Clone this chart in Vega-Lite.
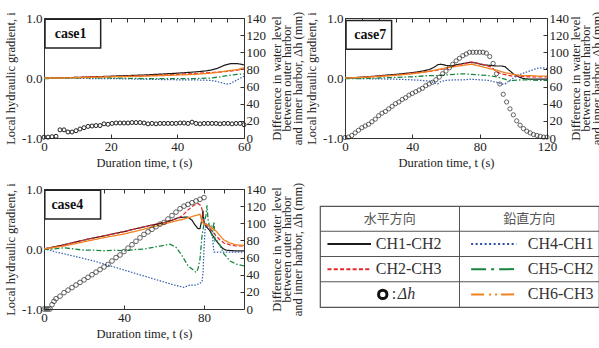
{
  "$schema": "https://vega.github.io/schema/vega-lite/v6.json",
  "padding": {"left": 3, "top": 10, "right": 0, "bottom": 0},
  "background": "white",
  "config": {
    "font": "Liberation Serif",
    "view": {"stroke": "#333", "strokeWidth": 1},
    "axis": {"labelFont": "Liberation Serif", "labelFontSize": 13, "labelColor": "#222", "titleFont": "Liberation Serif", "titleFontSize": 12.5, "titleFontWeight": "normal", "titleColor": "#222", "domain": false, "grid": false, "tickColor": "#333", "tickSize": -4, "tickWidth": 1, "labelPadding": 6, "labelFlush": false, "labelOverlap": false}
  },
  "datasets": {
    "lines": [
      {"c":"case1","s":"CH1-CH2","t":0,"v":0},{"c":"case1","s":"CH1-CH2","t":5,"v":0.005},{"c":"case1","s":"CH1-CH2","t":10,"v":0.01},{"c":"case1","s":"CH1-CH2","t":15,"v":0.02},{"c":"case1","s":"CH1-CH2","t":20,"v":0.03},{"c":"case1","s":"CH1-CH2","t":25,"v":0.04},{"c":"case1","s":"CH1-CH2","t":30,"v":0.05},{"c":"case1","s":"CH1-CH2","t":35,"v":0.065},{"c":"case1","s":"CH1-CH2","t":40,"v":0.08},{"c":"case1","s":"CH1-CH2","t":45,"v":0.1},{"c":"case1","s":"CH1-CH2","t":48,"v":0.115},{"c":"case1","s":"CH1-CH2","t":50,"v":0.13},{"c":"case1","s":"CH1-CH2","t":52,"v":0.16},{"c":"case1","s":"CH1-CH2","t":54,"v":0.21},{"c":"case1","s":"CH1-CH2","t":56,"v":0.24},{"c":"case1","s":"CH1-CH2","t":58,"v":0.24},{"c":"case1","s":"CH1-CH2","t":60,"v":0.22},
      {"c":"case1","s":"CH2-CH3","t":0,"v":0},{"c":"case1","s":"CH2-CH3","t":5,"v":0.005},{"c":"case1","s":"CH2-CH3","t":10,"v":0.01},{"c":"case1","s":"CH2-CH3","t":15,"v":0.02},{"c":"case1","s":"CH2-CH3","t":20,"v":0.025},{"c":"case1","s":"CH2-CH3","t":25,"v":0.03},{"c":"case1","s":"CH2-CH3","t":30,"v":0.04},{"c":"case1","s":"CH2-CH3","t":35,"v":0.05},{"c":"case1","s":"CH2-CH3","t":40,"v":0.06},{"c":"case1","s":"CH2-CH3","t":45,"v":0.075},{"c":"case1","s":"CH2-CH3","t":50,"v":0.09},{"c":"case1","s":"CH2-CH3","t":55,"v":0.11},{"c":"case1","s":"CH2-CH3","t":58,"v":0.13},{"c":"case1","s":"CH2-CH3","t":60,"v":0.15},
      {"c":"case1","s":"CH4-CH1","t":0,"v":0},{"c":"case1","s":"CH4-CH1","t":5,"v":0},{"c":"case1","s":"CH4-CH1","t":10,"v":-0.005},{"c":"case1","s":"CH4-CH1","t":15,"v":-0.01},{"c":"case1","s":"CH4-CH1","t":20,"v":-0.01},{"c":"case1","s":"CH4-CH1","t":25,"v":-0.015},{"c":"case1","s":"CH4-CH1","t":30,"v":-0.02},{"c":"case1","s":"CH4-CH1","t":35,"v":-0.025},{"c":"case1","s":"CH4-CH1","t":40,"v":-0.03},{"c":"case1","s":"CH4-CH1","t":45,"v":-0.03},{"c":"case1","s":"CH4-CH1","t":50,"v":-0.04},{"c":"case1","s":"CH4-CH1","t":52,"v":-0.06},{"c":"case1","s":"CH4-CH1","t":54,"v":-0.09},{"c":"case1","s":"CH4-CH1","t":55,"v":-0.1},{"c":"case1","s":"CH4-CH1","t":56,"v":-0.09},{"c":"case1","s":"CH4-CH1","t":57,"v":-0.06},{"c":"case1","s":"CH4-CH1","t":58,"v":-0.03},{"c":"case1","s":"CH4-CH1","t":60,"v":0.03},
      {"c":"case1","s":"CH5-CH2","t":0,"v":-0.01},{"c":"case1","s":"CH5-CH2","t":5,"v":-0.005},{"c":"case1","s":"CH5-CH2","t":10,"v":0},{"c":"case1","s":"CH5-CH2","t":15,"v":0.005},{"c":"case1","s":"CH5-CH2","t":20,"v":0},{"c":"case1","s":"CH5-CH2","t":25,"v":-0.005},{"c":"case1","s":"CH5-CH2","t":30,"v":-0.01},{"c":"case1","s":"CH5-CH2","t":35,"v":-0.01},{"c":"case1","s":"CH5-CH2","t":40,"v":-0.01},{"c":"case1","s":"CH5-CH2","t":45,"v":-0.01},{"c":"case1","s":"CH5-CH2","t":50,"v":0},{"c":"case1","s":"CH5-CH2","t":53,"v":0.02},{"c":"case1","s":"CH5-CH2","t":55,"v":0.04},{"c":"case1","s":"CH5-CH2","t":58,"v":0.06},{"c":"case1","s":"CH5-CH2","t":60,"v":0.07},
      {"c":"case1","s":"CH6-CH3","t":0,"v":0},{"c":"case1","s":"CH6-CH3","t":5,"v":0},{"c":"case1","s":"CH6-CH3","t":10,"v":0.005},{"c":"case1","s":"CH6-CH3","t":15,"v":0.01},{"c":"case1","s":"CH6-CH3","t":20,"v":0.02},{"c":"case1","s":"CH6-CH3","t":25,"v":0.025},{"c":"case1","s":"CH6-CH3","t":30,"v":0.03},{"c":"case1","s":"CH6-CH3","t":35,"v":0.04},{"c":"case1","s":"CH6-CH3","t":40,"v":0.05},{"c":"case1","s":"CH6-CH3","t":45,"v":0.06},{"c":"case1","s":"CH6-CH3","t":50,"v":0.08},{"c":"case1","s":"CH6-CH3","t":53,"v":0.1},{"c":"case1","s":"CH6-CH3","t":55,"v":0.12},{"c":"case1","s":"CH6-CH3","t":58,"v":0.14},{"c":"case1","s":"CH6-CH3","t":60,"v":0.17},

      {"c":"case7","s":"CH1-CH2","t":0,"v":0},{"c":"case7","s":"CH1-CH2","t":5,"v":0.005},{"c":"case7","s":"CH1-CH2","t":10,"v":0.015},{"c":"case7","s":"CH1-CH2","t":15,"v":0.025},{"c":"case7","s":"CH1-CH2","t":20,"v":0.035},{"c":"case7","s":"CH1-CH2","t":25,"v":0.05},{"c":"case7","s":"CH1-CH2","t":30,"v":0.06},{"c":"case7","s":"CH1-CH2","t":35,"v":0.075},{"c":"case7","s":"CH1-CH2","t":40,"v":0.09},{"c":"case7","s":"CH1-CH2","t":45,"v":0.11},{"c":"case7","s":"CH1-CH2","t":50,"v":0.14},{"c":"case7","s":"CH1-CH2","t":53,"v":0.18},{"c":"case7","s":"CH1-CH2","t":55,"v":0.22},{"c":"case7","s":"CH1-CH2","t":57,"v":0.23},{"c":"case7","s":"CH1-CH2","t":60,"v":0.21},{"c":"case7","s":"CH1-CH2","t":63,"v":0.2},{"c":"case7","s":"CH1-CH2","t":66,"v":0.22},{"c":"case7","s":"CH1-CH2","t":70,"v":0.24},{"c":"case7","s":"CH1-CH2","t":74,"v":0.26},{"c":"case7","s":"CH1-CH2","t":78,"v":0.25},{"c":"case7","s":"CH1-CH2","t":82,"v":0.22},{"c":"case7","s":"CH1-CH2","t":86,"v":0.21},{"c":"case7","s":"CH1-CH2","t":90,"v":0.2},{"c":"case7","s":"CH1-CH2","t":93,"v":0.2},{"c":"case7","s":"CH1-CH2","t":95,"v":0.19},{"c":"case7","s":"CH1-CH2","t":97,"v":0.14},{"c":"case7","s":"CH1-CH2","t":100,"v":0.07},{"c":"case7","s":"CH1-CH2","t":103,"v":0.02},{"c":"case7","s":"CH1-CH2","t":106,"v":-0.01},{"c":"case7","s":"CH1-CH2","t":110,"v":-0.02},{"c":"case7","s":"CH1-CH2","t":115,"v":-0.02},{"c":"case7","s":"CH1-CH2","t":120,"v":-0.02},
      {"c":"case7","s":"CH2-CH3","t":0,"v":0},{"c":"case7","s":"CH2-CH3","t":10,"v":0.01},{"c":"case7","s":"CH2-CH3","t":20,"v":0.03},{"c":"case7","s":"CH2-CH3","t":30,"v":0.05},{"c":"case7","s":"CH2-CH3","t":40,"v":0.08},{"c":"case7","s":"CH2-CH3","t":50,"v":0.11},{"c":"case7","s":"CH2-CH3","t":55,"v":0.13},{"c":"case7","s":"CH2-CH3","t":60,"v":0.16},{"c":"case7","s":"CH2-CH3","t":65,"v":0.2},{"c":"case7","s":"CH2-CH3","t":70,"v":0.23},{"c":"case7","s":"CH2-CH3","t":73,"v":0.25},{"c":"case7","s":"CH2-CH3","t":75,"v":0.27},{"c":"case7","s":"CH2-CH3","t":78,"v":0.25},{"c":"case7","s":"CH2-CH3","t":80,"v":0.24},{"c":"case7","s":"CH2-CH3","t":83,"v":0.22},{"c":"case7","s":"CH2-CH3","t":86,"v":0.19},{"c":"case7","s":"CH2-CH3","t":88,"v":0.16},{"c":"case7","s":"CH2-CH3","t":90,"v":0.1},{"c":"case7","s":"CH2-CH3","t":93,"v":0.07},{"c":"case7","s":"CH2-CH3","t":96,"v":0.05},{"c":"case7","s":"CH2-CH3","t":100,"v":0.03},{"c":"case7","s":"CH2-CH3","t":110,"v":0.02},{"c":"case7","s":"CH2-CH3","t":120,"v":0.02},
      {"c":"case7","s":"CH4-CH1","t":0,"v":0},{"c":"case7","s":"CH4-CH1","t":10,"v":-0.01},{"c":"case7","s":"CH4-CH1","t":20,"v":-0.015},{"c":"case7","s":"CH4-CH1","t":30,"v":-0.02},{"c":"case7","s":"CH4-CH1","t":40,"v":-0.03},{"c":"case7","s":"CH4-CH1","t":45,"v":-0.04},{"c":"case7","s":"CH4-CH1","t":50,"v":-0.05},{"c":"case7","s":"CH4-CH1","t":53,"v":-0.08},{"c":"case7","s":"CH4-CH1","t":55,"v":-0.1},{"c":"case7","s":"CH4-CH1","t":57,"v":-0.06},{"c":"case7","s":"CH4-CH1","t":60,"v":-0.04},{"c":"case7","s":"CH4-CH1","t":65,"v":-0.03},{"c":"case7","s":"CH4-CH1","t":70,"v":-0.03},{"c":"case7","s":"CH4-CH1","t":75,"v":-0.02},{"c":"case7","s":"CH4-CH1","t":80,"v":-0.03},{"c":"case7","s":"CH4-CH1","t":85,"v":-0.04},{"c":"case7","s":"CH4-CH1","t":90,"v":-0.07},{"c":"case7","s":"CH4-CH1","t":93,"v":-0.1},{"c":"case7","s":"CH4-CH1","t":95,"v":-0.1},{"c":"case7","s":"CH4-CH1","t":97,"v":-0.06},{"c":"case7","s":"CH4-CH1","t":100,"v":0},{"c":"case7","s":"CH4-CH1","t":103,"v":0.05},{"c":"case7","s":"CH4-CH1","t":106,"v":0.08},{"c":"case7","s":"CH4-CH1","t":110,"v":0.12},{"c":"case7","s":"CH4-CH1","t":114,"v":0.16},{"c":"case7","s":"CH4-CH1","t":117,"v":0.17},{"c":"case7","s":"CH4-CH1","t":120,"v":0.16},
      {"c":"case7","s":"CH5-CH2","t":0,"v":-0.01},{"c":"case7","s":"CH5-CH2","t":10,"v":-0.01},{"c":"case7","s":"CH5-CH2","t":20,"v":0},{"c":"case7","s":"CH5-CH2","t":30,"v":0.01},{"c":"case7","s":"CH5-CH2","t":40,"v":0.02},{"c":"case7","s":"CH5-CH2","t":50,"v":0.04},{"c":"case7","s":"CH5-CH2","t":55,"v":0.04},{"c":"case7","s":"CH5-CH2","t":60,"v":0.05},{"c":"case7","s":"CH5-CH2","t":65,"v":0.06},{"c":"case7","s":"CH5-CH2","t":70,"v":0.07},{"c":"case7","s":"CH5-CH2","t":75,"v":0.06},{"c":"case7","s":"CH5-CH2","t":80,"v":0.05},{"c":"case7","s":"CH5-CH2","t":85,"v":0.04},{"c":"case7","s":"CH5-CH2","t":90,"v":0.02},{"c":"case7","s":"CH5-CH2","t":95,"v":-0.02},{"c":"case7","s":"CH5-CH2","t":98,"v":-0.05},{"c":"case7","s":"CH5-CH2","t":100,"v":-0.04},{"c":"case7","s":"CH5-CH2","t":105,"v":-0.03},{"c":"case7","s":"CH5-CH2","t":110,"v":-0.03},{"c":"case7","s":"CH5-CH2","t":115,"v":-0.04},{"c":"case7","s":"CH5-CH2","t":120,"v":-0.04},
      {"c":"case7","s":"CH6-CH3","t":0,"v":0},{"c":"case7","s":"CH6-CH3","t":10,"v":0.01},{"c":"case7","s":"CH6-CH3","t":20,"v":0.025},{"c":"case7","s":"CH6-CH3","t":30,"v":0.045},{"c":"case7","s":"CH6-CH3","t":40,"v":0.07},{"c":"case7","s":"CH6-CH3","t":50,"v":0.11},{"c":"case7","s":"CH6-CH3","t":55,"v":0.14},{"c":"case7","s":"CH6-CH3","t":60,"v":0.17},{"c":"case7","s":"CH6-CH3","t":65,"v":0.19},{"c":"case7","s":"CH6-CH3","t":70,"v":0.21},{"c":"case7","s":"CH6-CH3","t":75,"v":0.23},{"c":"case7","s":"CH6-CH3","t":80,"v":0.2},{"c":"case7","s":"CH6-CH3","t":85,"v":0.16},{"c":"case7","s":"CH6-CH3","t":90,"v":0.13},{"c":"case7","s":"CH6-CH3","t":95,"v":0.09},{"c":"case7","s":"CH6-CH3","t":100,"v":0.06},{"c":"case7","s":"CH6-CH3","t":105,"v":0.04},{"c":"case7","s":"CH6-CH3","t":110,"v":0.04},{"c":"case7","s":"CH6-CH3","t":115,"v":0.03},{"c":"case7","s":"CH6-CH3","t":120,"v":0.03},

      {"c":"case4","s":"CH1-CH2","t":0,"v":0},{"c":"case4","s":"CH1-CH2","t":10,"v":0.07},{"c":"case4","s":"CH1-CH2","t":20,"v":0.15},{"c":"case4","s":"CH1-CH2","t":30,"v":0.22},{"c":"case4","s":"CH1-CH2","t":40,"v":0.29},{"c":"case4","s":"CH1-CH2","t":50,"v":0.37},{"c":"case4","s":"CH1-CH2","t":60,"v":0.44},{"c":"case4","s":"CH1-CH2","t":64,"v":0.48},{"c":"case4","s":"CH1-CH2","t":67,"v":0.52},{"c":"case4","s":"CH1-CH2","t":70,"v":0.53},{"c":"case4","s":"CH1-CH2","t":72,"v":0.53},{"c":"case4","s":"CH1-CH2","t":74,"v":0.48},{"c":"case4","s":"CH1-CH2","t":75.5,"v":0.4},{"c":"case4","s":"CH1-CH2","t":77,"v":0.34},{"c":"case4","s":"CH1-CH2","t":78,"v":0.34},{"c":"case4","s":"CH1-CH2","t":79,"v":0.5},{"c":"case4","s":"CH1-CH2","t":79.5,"v":0.64},{"c":"case4","s":"CH1-CH2","t":80,"v":0.45},{"c":"case4","s":"CH1-CH2","t":81,"v":0.38},{"c":"case4","s":"CH1-CH2","t":83,"v":0.3},{"c":"case4","s":"CH1-CH2","t":85,"v":0.19},{"c":"case4","s":"CH1-CH2","t":87,"v":0.1},{"c":"case4","s":"CH1-CH2","t":89,"v":0.02},{"c":"case4","s":"CH1-CH2","t":91,"v":-0.02},{"c":"case4","s":"CH1-CH2","t":95,"v":-0.03},{"c":"case4","s":"CH1-CH2","t":100,"v":-0.03},
      {"c":"case4","s":"CH2-CH3","t":0,"v":0},{"c":"case4","s":"CH2-CH3","t":10,"v":0.07},{"c":"case4","s":"CH2-CH3","t":20,"v":0.15},{"c":"case4","s":"CH2-CH3","t":30,"v":0.22},{"c":"case4","s":"CH2-CH3","t":40,"v":0.29},{"c":"case4","s":"CH2-CH3","t":50,"v":0.37},{"c":"case4","s":"CH2-CH3","t":60,"v":0.44},{"c":"case4","s":"CH2-CH3","t":66,"v":0.5},{"c":"case4","s":"CH2-CH3","t":69,"v":0.55},{"c":"case4","s":"CH2-CH3","t":72,"v":0.65},{"c":"case4","s":"CH2-CH3","t":75,"v":0.73},{"c":"case4","s":"CH2-CH3","t":77,"v":0.76},{"c":"case4","s":"CH2-CH3","t":78.5,"v":0.72},{"c":"case4","s":"CH2-CH3","t":79.5,"v":0.6},{"c":"case4","s":"CH2-CH3","t":80,"v":0.42},{"c":"case4","s":"CH2-CH3","t":82,"v":0.38},{"c":"case4","s":"CH2-CH3","t":84,"v":0.3},{"c":"case4","s":"CH2-CH3","t":86,"v":0.22},{"c":"case4","s":"CH2-CH3","t":88,"v":0.15},{"c":"case4","s":"CH2-CH3","t":90,"v":0.1},{"c":"case4","s":"CH2-CH3","t":93,"v":0.07},{"c":"case4","s":"CH2-CH3","t":96,"v":0.05},{"c":"case4","s":"CH2-CH3","t":100,"v":0.05},
      {"c":"case4","s":"CH4-CH1","t":0,"v":0},{"c":"case4","s":"CH4-CH1","t":3,"v":-0.02},{"c":"case4","s":"CH4-CH1","t":6,"v":-0.05},{"c":"case4","s":"CH4-CH1","t":10,"v":-0.08},{"c":"case4","s":"CH4-CH1","t":15,"v":-0.12},{"c":"case4","s":"CH4-CH1","t":20,"v":-0.16},{"c":"case4","s":"CH4-CH1","t":25,"v":-0.2},{"c":"case4","s":"CH4-CH1","t":30,"v":-0.25},{"c":"case4","s":"CH4-CH1","t":35,"v":-0.3},{"c":"case4","s":"CH4-CH1","t":40,"v":-0.35},{"c":"case4","s":"CH4-CH1","t":45,"v":-0.4},{"c":"case4","s":"CH4-CH1","t":50,"v":-0.45},{"c":"case4","s":"CH4-CH1","t":55,"v":-0.5},{"c":"case4","s":"CH4-CH1","t":60,"v":-0.55},{"c":"case4","s":"CH4-CH1","t":65,"v":-0.6},{"c":"case4","s":"CH4-CH1","t":70,"v":-0.64},{"c":"case4","s":"CH4-CH1","t":73,"v":-0.6},{"c":"case4","s":"CH4-CH1","t":76,"v":-0.6},{"c":"case4","s":"CH4-CH1","t":78,"v":-0.57},{"c":"case4","s":"CH4-CH1","t":79,"v":-0.55},{"c":"case4","s":"CH4-CH1","t":79.5,"v":-0.4},{"c":"case4","s":"CH4-CH1","t":80,"v":0},{"c":"case4","s":"CH4-CH1","t":80.5,"v":0.3},{"c":"case4","s":"CH4-CH1","t":81,"v":0.42},{"c":"case4","s":"CH4-CH1","t":82,"v":0.4},{"c":"case4","s":"CH4-CH1","t":84,"v":0.38},{"c":"case4","s":"CH4-CH1","t":84.5,"v":0.1},{"c":"case4","s":"CH4-CH1","t":85,"v":-0.05},{"c":"case4","s":"CH4-CH1","t":90,"v":-0.05},{"c":"case4","s":"CH4-CH1","t":95,"v":-0.05},{"c":"case4","s":"CH4-CH1","t":100,"v":-0.05},
      {"c":"case4","s":"CH5-CH2","t":0,"v":0},{"c":"case4","s":"CH5-CH2","t":5,"v":0},{"c":"case4","s":"CH5-CH2","t":10,"v":0.02},{"c":"case4","s":"CH5-CH2","t":15,"v":0},{"c":"case4","s":"CH5-CH2","t":20,"v":-0.02},{"c":"case4","s":"CH5-CH2","t":25,"v":-0.02},{"c":"case4","s":"CH5-CH2","t":30,"v":-0.03},{"c":"case4","s":"CH5-CH2","t":35,"v":-0.02},{"c":"case4","s":"CH5-CH2","t":40,"v":-0.03},{"c":"case4","s":"CH5-CH2","t":45,"v":-0.01},{"c":"case4","s":"CH5-CH2","t":50,"v":0},{"c":"case4","s":"CH5-CH2","t":55,"v":0.03},{"c":"case4","s":"CH5-CH2","t":60,"v":0.06},{"c":"case4","s":"CH5-CH2","t":63,"v":0.08},{"c":"case4","s":"CH5-CH2","t":66,"v":0.03},{"c":"case4","s":"CH5-CH2","t":69,"v":-0.11},{"c":"case4","s":"CH5-CH2","t":72,"v":-0.28},{"c":"case4","s":"CH5-CH2","t":75,"v":-0.36},{"c":"case4","s":"CH5-CH2","t":76,"v":-0.39},{"c":"case4","s":"CH5-CH2","t":77,"v":-0.33},{"c":"case4","s":"CH5-CH2","t":78,"v":-0.17},{"c":"case4","s":"CH5-CH2","t":79,"v":0.22},{"c":"case4","s":"CH5-CH2","t":80,"v":0.42},{"c":"case4","s":"CH5-CH2","t":81,"v":0.56},{"c":"case4","s":"CH5-CH2","t":81.5,"v":0.73},{"c":"case4","s":"CH5-CH2","t":82,"v":0.5},{"c":"case4","s":"CH5-CH2","t":83,"v":0.33},{"c":"case4","s":"CH5-CH2","t":84,"v":0.22},{"c":"case4","s":"CH5-CH2","t":85,"v":0.45},{"c":"case4","s":"CH5-CH2","t":85.5,"v":0.14},{"c":"case4","s":"CH5-CH2","t":86,"v":0.16},{"c":"case4","s":"CH5-CH2","t":88,"v":0.06},{"c":"case4","s":"CH5-CH2","t":90,"v":-0.08},{"c":"case4","s":"CH5-CH2","t":93,"v":-0.2},{"c":"case4","s":"CH5-CH2","t":96,"v":-0.25},{"c":"case4","s":"CH5-CH2","t":100,"v":-0.28},
      {"c":"case4","s":"CH6-CH3","t":0,"v":0},{"c":"case4","s":"CH6-CH3","t":10,"v":0.05},{"c":"case4","s":"CH6-CH3","t":20,"v":0.12},{"c":"case4","s":"CH6-CH3","t":30,"v":0.19},{"c":"case4","s":"CH6-CH3","t":40,"v":0.25},{"c":"case4","s":"CH6-CH3","t":50,"v":0.33},{"c":"case4","s":"CH6-CH3","t":60,"v":0.42},{"c":"case4","s":"CH6-CH3","t":70,"v":0.5},{"c":"case4","s":"CH6-CH3","t":75,"v":0.55},{"c":"case4","s":"CH6-CH3","t":77,"v":0.57},{"c":"case4","s":"CH6-CH3","t":78,"v":0.58},{"c":"case4","s":"CH6-CH3","t":79,"v":0.45},{"c":"case4","s":"CH6-CH3","t":80,"v":0.42},{"c":"case4","s":"CH6-CH3","t":82,"v":0.4},{"c":"case4","s":"CH6-CH3","t":84,"v":0.35},{"c":"case4","s":"CH6-CH3","t":86,"v":0.3},{"c":"case4","s":"CH6-CH3","t":88,"v":0.22},{"c":"case4","s":"CH6-CH3","t":90,"v":0.15},{"c":"case4","s":"CH6-CH3","t":93,"v":0.1},{"c":"case4","s":"CH6-CH3","t":96,"v":0.07},{"c":"case4","s":"CH6-CH3","t":100,"v":0.06}
    ],
    "dh": [
      {"c":"case1","t":0,"h":1},{"c":"case1","t":1.2,"h":1},{"c":"case1","t":2.4,"h":1.5},{"c":"case1","t":3.6,"h":2},{"c":"case1","t":4.8,"h":9.5},{"c":"case1","t":6,"h":9.5},{"c":"case1","t":7.2,"h":7},{"c":"case1","t":8.4,"h":7},{"c":"case1","t":9.6,"h":8.5},{"c":"case1","t":10.8,"h":10.5},{"c":"case1","t":12,"h":12},{"c":"case1","t":13.2,"h":13.5},{"c":"case1","t":14.4,"h":14},{"c":"case1","t":15.6,"h":14.5},{"c":"case1","t":16.8,"h":14.5},{"c":"case1","t":18,"h":16.5},{"c":"case1","t":19.2,"h":16},{"c":"case1","t":20.4,"h":17},{"c":"case1","t":21.6,"h":17.5},{"c":"case1","t":22.8,"h":17.5},{"c":"case1","t":24,"h":17.5},{"c":"case1","t":25.2,"h":17.5},{"c":"case1","t":26.4,"h":18},{"c":"case1","t":27.6,"h":18},{"c":"case1","t":28.8,"h":18},{"c":"case1","t":30,"h":17.5},{"c":"case1","t":31.2,"h":16.5},{"c":"case1","t":32.4,"h":17},{"c":"case1","t":33.6,"h":16.5},{"c":"case1","t":34.8,"h":17},{"c":"case1","t":36,"h":17},{"c":"case1","t":37.2,"h":17},{"c":"case1","t":38.4,"h":17},{"c":"case1","t":39.6,"h":17},{"c":"case1","t":40.8,"h":17.5},{"c":"case1","t":42,"h":17.5},{"c":"case1","t":43.2,"h":17},{"c":"case1","t":44.4,"h":18.5},{"c":"case1","t":45.6,"h":17},{"c":"case1","t":46.8,"h":16.5},{"c":"case1","t":48,"h":17},{"c":"case1","t":49.2,"h":17},{"c":"case1","t":50.4,"h":17},{"c":"case1","t":51.6,"h":17},{"c":"case1","t":52.8,"h":16.5},{"c":"case1","t":54,"h":17},{"c":"case1","t":55.2,"h":17},{"c":"case1","t":56.4,"h":16.5},{"c":"case1","t":57.6,"h":17},{"c":"case1","t":58.8,"h":17},{"c":"case1","t":60,"h":15.5},
      {"c":"case7","t":0,"h":0.5},{"c":"case7","t":2,"h":1},{"c":"case7","t":4,"h":3},{"c":"case7","t":6,"h":6},{"c":"case7","t":8,"h":9},{"c":"case7","t":10,"h":12},{"c":"case7","t":12,"h":14},{"c":"case7","t":14,"h":16},{"c":"case7","t":16,"h":19},{"c":"case7","t":18,"h":22},{"c":"case7","t":20,"h":26},{"c":"case7","t":22,"h":29},{"c":"case7","t":24,"h":31},{"c":"case7","t":26,"h":34},{"c":"case7","t":28,"h":37},{"c":"case7","t":30,"h":40},{"c":"case7","t":32,"h":42},{"c":"case7","t":34,"h":45},{"c":"case7","t":36,"h":47},{"c":"case7","t":38,"h":50},{"c":"case7","t":40,"h":52},{"c":"case7","t":42,"h":54},{"c":"case7","t":44,"h":56},{"c":"case7","t":46,"h":58},{"c":"case7","t":48,"h":61},{"c":"case7","t":50,"h":63},{"c":"case7","t":52,"h":65},{"c":"case7","t":54,"h":68},{"c":"case7","t":56,"h":71},{"c":"case7","t":58,"h":75},{"c":"case7","t":60,"h":78},{"c":"case7","t":62,"h":82},{"c":"case7","t":64,"h":86},{"c":"case7","t":66,"h":90},{"c":"case7","t":68,"h":93},{"c":"case7","t":70,"h":96},{"c":"case7","t":72,"h":98},{"c":"case7","t":74,"h":100},{"c":"case7","t":76,"h":100},{"c":"case7","t":78,"h":100},{"c":"case7","t":80,"h":100},{"c":"case7","t":82,"h":100},{"c":"case7","t":84,"h":99},{"c":"case7","t":86,"h":95},{"c":"case7","t":88,"h":87},{"c":"case7","t":90,"h":75},{"c":"case7","t":92,"h":63},{"c":"case7","t":94,"h":51},{"c":"case7","t":96,"h":42},{"c":"case7","t":98,"h":34},{"c":"case7","t":100,"h":27},{"c":"case7","t":102,"h":20},{"c":"case7","t":104,"h":15},{"c":"case7","t":106,"h":11},{"c":"case7","t":108,"h":8},{"c":"case7","t":110,"h":6},{"c":"case7","t":112,"h":4},{"c":"case7","t":114,"h":3},{"c":"case7","t":116,"h":2},{"c":"case7","t":118,"h":1},{"c":"case7","t":120,"h":1},
      {"c":"case4","t":0,"h":0},{"c":"case4","t":1,"h":0},{"c":"case4","t":2,"h":0},{"c":"case4","t":3,"h":0},{"c":"case4","t":4,"h":5},{"c":"case4","t":5,"h":9},{"c":"case4","t":6,"h":12},{"c":"case4","t":8,"h":15},{"c":"case4","t":10,"h":19},{"c":"case4","t":12,"h":22},{"c":"case4","t":14,"h":25},{"c":"case4","t":16,"h":28},{"c":"case4","t":18,"h":31},{"c":"case4","t":20,"h":34},{"c":"case4","t":22,"h":37},{"c":"case4","t":24,"h":40},{"c":"case4","t":26,"h":43},{"c":"case4","t":28,"h":46},{"c":"case4","t":30,"h":49},{"c":"case4","t":32,"h":52},{"c":"case4","t":34,"h":56},{"c":"case4","t":36,"h":60},{"c":"case4","t":38,"h":63},{"c":"case4","t":40,"h":67},{"c":"case4","t":42,"h":71},{"c":"case4","t":44,"h":75},{"c":"case4","t":46,"h":79},{"c":"case4","t":48,"h":83},{"c":"case4","t":50,"h":87},{"c":"case4","t":52,"h":90},{"c":"case4","t":54,"h":93},{"c":"case4","t":56,"h":96},{"c":"case4","t":58,"h":99},{"c":"case4","t":60,"h":101},{"c":"case4","t":62,"h":105},{"c":"case4","t":64,"h":109},{"c":"case4","t":66,"h":113},{"c":"case4","t":68,"h":117},{"c":"case4","t":70,"h":120},{"c":"case4","t":72,"h":122},{"c":"case4","t":74,"h":124},{"c":"case4","t":76,"h":126},{"c":"case4","t":78,"h":128},{"c":"case4","t":80,"h":130}
    ],
    "lgHead": [{"col":"水平方向","row":0},{"col":"鉛直方向","row":0}],
    "lgItems": [{"col":"水平方向","row":1,"s":"CH1-CH2"},{"col":"水平方向","row":2,"s":"CH2-CH3"},{"col":"鉛直方向","row":1,"s":"CH4-CH1"},{"col":"鉛直方向","row":2,"s":"CH5-CH2"},{"col":"鉛直方向","row":3,"s":"CH6-CH3"}],
    "lgDh": [{"col":"水平方向","row":3}],
    "lgRows": [{"row":1},{"row":2},{"row":3}],
    "lgCol": [{"col":"鉛直方向"}]
  },
  "columns": 2,
  "align": "none",
  "spacing": {"row": 12, "column": 0},
  "resolve": {"scale": {"color": "independent", "strokeDash": "independent", "strokeWidth": "independent"}},
  "concat": [
    {
      "width": 200, "height": 120,
      "resolve": {"scale": {"y": "independent"}, "axis": {"x": "independent"}},
      "layer": [
        {"layer": [
          {"data": {"name": "lines"}, "transform": [{"filter": "datum.c === 'case1'"}],
           "mark": {"type": "line", "clip": true},
           "encoding": {
             "x": {"field": "t", "type": "quantitative", "scale": {"domain": [0, 60], "nice": false}, "axis": {"values": [0,10,20,30,40,50,60], "format": "d", "labelOverlap": false, "title": "Duration time, t (s)", "titlePadding": 3}},
             "y": {"field": "v", "type": "quantitative", "scale": {"domain": [-1, 1], "nice": false}, "axis": {"values": [-1,-0.5,0,0.5,1], "labelOverlap": false, "labelExpr": "replace(format(datum.value, '.1f'), '\u2212', '-')", "title": "Local hydraulic gradient, i", "titlePadding": 4}},
             "color": {"field": "s", "type": "nominal", "legend": null, "scale": {"domain": ["CH1-CH2","CH2-CH3","CH4-CH1","CH5-CH2","CH6-CH3"], "range": ["#1a1a1a","#e5262b","#3a62b0","#17873f","#f08220"]}},
             "strokeDash": {"field": "s", "type": "nominal", "legend": null, "scale": {"domain": ["CH1-CH2","CH2-CH3","CH4-CH1","CH5-CH2","CH6-CH3"], "range": [[1,0],[4,2],[1.5,1.5],[5,2,1.5,2],[1,0]]}},
             "strokeWidth": {"field": "s", "type": "nominal", "legend": null, "scale": {"domain": ["CH1-CH2","CH2-CH3","CH4-CH1","CH5-CH2","CH6-CH3"], "range": [1.2,1.3,1.3,1.6,2]}}
           }},
          {"data": {"values": [{}]}, "mark": {"type": "rect", "fill": "white", "stroke": "#222", "strokeWidth": 1.5},
           "encoding": {"x": {"datum": 0.3}, "x2": {"datum": 17}, "y": {"datum": 0.98}, "y2": {"datum": 0.5}}},
          {"data": {"values": [{}]}, "mark": {"type": "text", "font": "Liberation Serif", "fontWeight": "bold", "fontSize": 14, "align": "left", "baseline": "middle", "color": "#111"},
           "encoding": {"x": {"datum": 3.2}, "y": {"datum": 0.73}, "text": {"value": "case1"}}}
        ]},
        {"data": {"name": "dh"}, "transform": [{"filter": "datum.c === 'case1'"}],
         "mark": {"type": "point", "shape": "circle", "filled": false, "stroke": "#222", "size": 16, "strokeWidth": 1, "opacity": 1},
         "encoding": {
           "x": {"field": "t", "type": "quantitative", "axis": {"orient": "top", "labels": false, "title": null, "values": [0,5,10,15,20,25,30,35,40,45,50,55,60]}},
           "y": {"field": "h", "type": "quantitative", "scale": {"domain": [0, 140], "nice": false}, "axis": {"orient": "right", "values": [0,20,40,60,80,100,120,140], "labelOverlap": false, "title": ["Difference in water level", "between outer harbor", "and inner harbor, Δh (mm)"], "titleAngle": 270, "titleBaseline": "top", "titleAlign": "center", "titleLineHeight": 10.5, "titleX": 26, "titleY": 60}}
         }}
      ]
    },
    {
      "width": 202, "height": 120,
      "resolve": {"scale": {"y": "independent"}, "axis": {"x": "independent"}},
      "layer": [
        {"layer": [
          {"data": {"name": "lines"}, "transform": [{"filter": "datum.c === 'case7'"}],
           "mark": {"type": "line", "clip": true},
           "encoding": {
             "x": {"field": "t", "type": "quantitative", "scale": {"domain": [0, 120], "nice": false}, "axis": {"values": [0,20,40,60,80,100,120], "format": "d", "labelOverlap": false, "title": "Duration time, t (s)", "titlePadding": 3}},
             "y": {"field": "v", "type": "quantitative", "scale": {"domain": [-1, 1], "nice": false}, "axis": {"values": [-1,-0.5,0,0.5,1], "labelOverlap": false, "labelExpr": "replace(format(datum.value, '.1f'), '\u2212', '-')", "title": "Local hydraulic gradient, i", "titlePadding": 4}},
             "color": {"field": "s", "type": "nominal", "legend": null, "scale": {"domain": ["CH1-CH2","CH2-CH3","CH4-CH1","CH5-CH2","CH6-CH3"], "range": ["#1a1a1a","#e5262b","#3a62b0","#17873f","#f08220"]}},
             "strokeDash": {"field": "s", "type": "nominal", "legend": null, "scale": {"domain": ["CH1-CH2","CH2-CH3","CH4-CH1","CH5-CH2","CH6-CH3"], "range": [[1,0],[4,2],[1.5,1.5],[5,2,1.5,2],[1,0]]}},
             "strokeWidth": {"field": "s", "type": "nominal", "legend": null, "scale": {"domain": ["CH1-CH2","CH2-CH3","CH4-CH1","CH5-CH2","CH6-CH3"], "range": [1.2,1.3,1.3,1.6,2]}}
           }},
          {"data": {"values": [{}]}, "mark": {"type": "rect", "fill": "white", "stroke": "#222", "strokeWidth": 1.5},
           "encoding": {"x": {"datum": 0.6}, "x2": {"datum": 27.7}, "y": {"datum": 0.96}, "y2": {"datum": 0.48}}},
          {"data": {"values": [{}]}, "mark": {"type": "text", "font": "Liberation Serif", "fontWeight": "bold", "fontSize": 14, "align": "left", "baseline": "middle", "color": "#111"},
           "encoding": {"x": {"datum": 5.5}, "y": {"datum": 0.71}, "text": {"value": "case7"}}}
        ]},
        {"data": {"name": "dh"}, "transform": [{"filter": "datum.c === 'case7'"}],
         "mark": {"type": "point", "shape": "circle", "filled": false, "stroke": "#222", "size": 18, "strokeWidth": 1},
         "encoding": {
           "x": {"field": "t", "type": "quantitative", "axis": {"orient": "top", "labels": false, "title": null, "values": [0,10,20,30,40,50,60,70,80,90,100,110,120]}},
           "y": {"field": "h", "type": "quantitative", "scale": {"domain": [0, 140], "nice": false}, "axis": {"orient": "right", "values": [0,20,40,60,80,100,120,140], "labelOverlap": false, "title": ["Difference in water level", "between outer harbor", "and inner harbor, Δh (mm)"], "titleAngle": 270, "titleBaseline": "top", "titleAlign": "center", "titleLineHeight": 10.5, "titleX": 22, "titleY": 60}}
         }}
      ]
    },
    {
      "width": 200, "height": 120,
      "resolve": {"scale": {"y": "independent"}, "axis": {"x": "independent"}},
      "layer": [
        {"layer": [
          {"data": {"name": "lines"}, "transform": [{"filter": "datum.c === 'case4'"}],
           "mark": {"type": "line", "clip": true},
           "encoding": {
             "x": {"field": "t", "type": "quantitative", "scale": {"domain": [0, 100], "nice": false}, "axis": {"values": [0,20,40,60,80,100], "format": "d", "labelOverlap": false, "title": "Duration time, t (s)", "titlePadding": 3}},
             "y": {"field": "v", "type": "quantitative", "scale": {"domain": [-1, 1], "nice": false}, "axis": {"values": [-1,-0.5,0,0.5,1], "labelOverlap": false, "labelExpr": "replace(format(datum.value, '.1f'), '\u2212', '-')", "title": "Local hydraulic gradient, i", "titlePadding": 4}},
             "color": {"field": "s", "type": "nominal", "legend": null, "scale": {"domain": ["CH1-CH2","CH2-CH3","CH4-CH1","CH5-CH2","CH6-CH3"], "range": ["#1a1a1a","#e5262b","#3a62b0","#17873f","#f08220"]}},
             "strokeDash": {"field": "s", "type": "nominal", "legend": null, "scale": {"domain": ["CH1-CH2","CH2-CH3","CH4-CH1","CH5-CH2","CH6-CH3"], "range": [[1,0],[4,2],[1.5,1.5],[5,2,1.5,2],[1,0]]}},
             "strokeWidth": {"field": "s", "type": "nominal", "legend": null, "scale": {"domain": ["CH1-CH2","CH2-CH3","CH4-CH1","CH5-CH2","CH6-CH3"], "range": [1.2,1.3,1.3,1.6,2]}}
           }},
          {"data": {"values": [{}]}, "mark": {"type": "rect", "fill": "white", "stroke": "#222", "strokeWidth": 1.5},
           "encoding": {"x": {"datum": 0.4}, "x2": {"datum": 28.3}, "y": {"datum": 0.98}, "y2": {"datum": 0.5}}},
          {"data": {"values": [{}]}, "mark": {"type": "text", "font": "Liberation Serif", "fontWeight": "bold", "fontSize": 14, "align": "left", "baseline": "middle", "color": "#111"},
           "encoding": {"x": {"datum": 3.7}, "y": {"datum": 0.73}, "text": {"value": "case4"}}}
        ]},
        {"data": {"name": "dh"}, "transform": [{"filter": "datum.c === 'case4'"}],
         "mark": {"type": "point", "shape": "circle", "filled": false, "stroke": "#222", "size": 22, "strokeWidth": 1},
         "encoding": {
           "x": {"field": "t", "type": "quantitative", "axis": {"orient": "top", "labels": false, "title": null, "values": [0,10,20,30,40,50,60,70,80,90,100]}},
           "y": {"field": "h", "type": "quantitative", "scale": {"domain": [0, 140], "nice": false}, "axis": {"orient": "right", "values": [0,20,40,60,80,100,120,140], "labelOverlap": false, "title": ["Difference in water level", "between outer harbor", "and inner harbor, Δh (mm)"], "titleAngle": 270, "titleBaseline": "top", "titleAlign": "center", "titleLineHeight": 10.5, "titleX": 26, "titleY": 60}}
         }}
      ]
    },
    {
      "width": 279, "height": 101,
      "view": {"stroke": "#555", "strokeWidth": 1.2},
      "layer": [
        {"data": {"name": "lgCol"}, "mark": {"type": "rule", "color": "#555", "strokeWidth": 1},
         "encoding": {"x": {"field": "col", "type": "nominal", "bandPosition": 0, "scale": {"type": "band", "domain": ["水平方向","鉛直方向"], "paddingInner": 0, "paddingOuter": 0}, "axis": {"orient": "top", "labels": false, "ticks": false, "domain": false, "title": "x", "titleColor": "white", "titleFontSize": 10, "titlePadding": 14}}}},
        {"data": {"name": "lgRows"}, "mark": {"type": "rule", "color": "#555", "strokeWidth": 1},
         "encoding": {"y": {"field": "row", "type": "ordinal", "bandPosition": 0, "scale": {"type": "band", "domain": [0,1,2,3], "paddingInner": 0, "paddingOuter": 0}, "axis": {"labels": false, "ticks": false, "domain": false, "title": "x", "titleColor": "white", "titleFontSize": 4, "titlePadding": 11}}}},
        {"data": {"name": "lgHead"}, "mark": {"type": "text", "font": "Noto Sans CJK JP", "fontSize": 13, "color": "#555", "baseline": "middle"},
         "encoding": {"x": {"field": "col", "type": "nominal"}, "y": {"field": "row", "type": "ordinal"}, "text": {"field": "col"}}},
        {"data": {"name": "lgItems"}, "transform": [{"filter": "datum.col === '水平方向'"}],
         "mark": {"type": "point", "shape": "M-1,0L1,0", "filled": false, "size": 1900, "strokeWidth": 2, "xOffset": -40.5, "opacity": 1},
         "encoding": {"x": {"field": "col", "type": "nominal"}, "y": {"field": "row", "type": "ordinal"},
           "color": {"field": "s", "type": "nominal", "legend": null, "scale": {"domain": ["CH1-CH2","CH2-CH3","CH4-CH1","CH5-CH2","CH6-CH3"], "range": ["#1a1a1a","#e5262b","#2f4fa8","#17873f","#f08220"]}},
           "strokeDash": {"field": "s", "type": "nominal", "legend": null, "scale": {"domain": ["CH1-CH2","CH2-CH3","CH4-CH1","CH5-CH2","CH6-CH3"], "range": [[1,0],[4,2.3],[2,2.5],[15,5,3,5],[13,5,2,4,2,4]]}}}},
        {"data": {"name": "lgItems"}, "transform": [{"filter": "datum.col === '鉛直方向'"}],
         "mark": {"type": "point", "shape": "M-1,0L1,0", "filled": false, "size": 2050, "strokeWidth": 2, "xOffset": -35.5, "opacity": 1},
         "encoding": {"x": {"field": "col", "type": "nominal"}, "y": {"field": "row", "type": "ordinal"},
           "color": {"field": "s", "type": "nominal", "legend": null},
           "strokeDash": {"field": "s", "type": "nominal", "legend": null}}},
        {"data": {"name": "lgItems"}, "transform": [{"filter": "datum.col === '水平方向'"}],
         "mark": {"type": "text", "font": "Liberation Serif", "fontSize": 16, "color": "#333", "align": "left", "baseline": "middle", "dx": -14},
         "encoding": {"x": {"field": "col", "type": "nominal"}, "y": {"field": "row", "type": "ordinal"}, "text": {"field": "s"}}},
        {"data": {"name": "lgItems"}, "transform": [{"filter": "datum.col === '鉛直方向'"}],
         "mark": {"type": "text", "font": "Liberation Serif", "fontSize": 16, "color": "#333", "align": "left", "baseline": "middle", "dx": -1.5},
         "encoding": {"x": {"field": "col", "type": "nominal"}, "y": {"field": "row", "type": "ordinal"}, "text": {"field": "s"}}},
        {"data": {"name": "lgDh"}, "mark": {"type": "point", "shape": "circle", "filled": false, "stroke": "#111", "strokeWidth": 3, "size": 70, "xOffset": -7, "opacity": 1},
         "encoding": {"x": {"field": "col", "type": "nominal"}, "y": {"field": "row", "type": "ordinal"}}},
        {"data": {"name": "lgDh"}, "mark": {"type": "text", "font": "Liberation Serif", "fontSize": 16, "color": "#333", "align": "left", "baseline": "middle", "dx": 2},
         "encoding": {"x": {"field": "col", "type": "nominal"}, "y": {"field": "row", "type": "ordinal"}, "text": {"value": ":"}}},
        {"data": {"name": "lgDh"}, "mark": {"type": "text", "font": "Liberation Serif", "fontSize": 16, "fontStyle": "italic", "color": "#333", "align": "left", "baseline": "middle", "dx": 8},
         "encoding": {"x": {"field": "col", "type": "nominal"}, "y": {"field": "row", "type": "ordinal"}, "text": {"value": "Δh"}}}
      ]
    }
  ]
}
